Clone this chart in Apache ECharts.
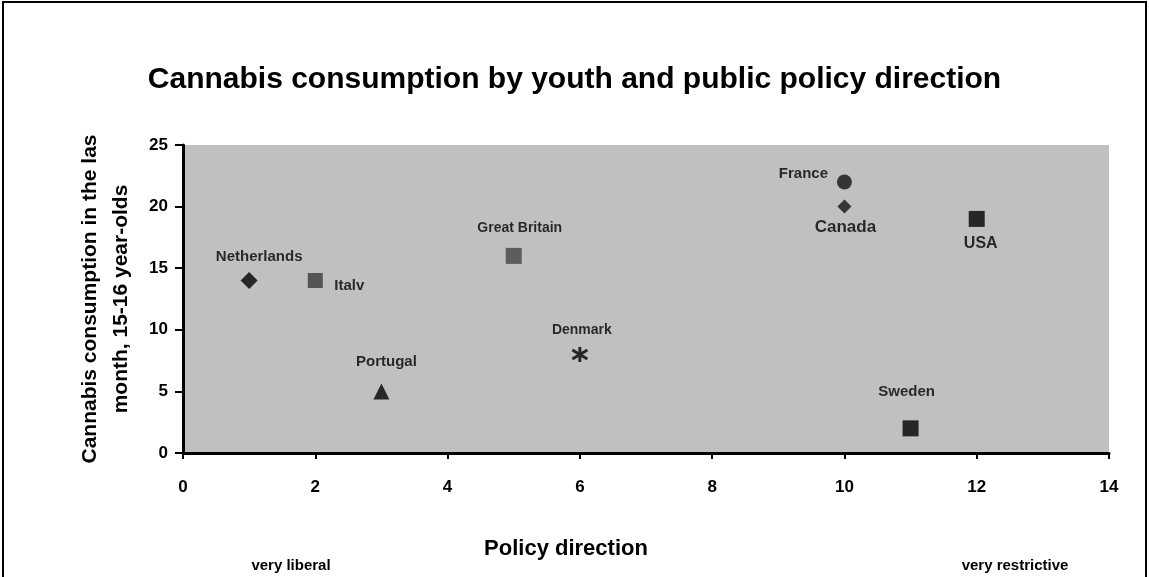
<!DOCTYPE html>
<html>
<head>
<meta charset="utf-8">
<script src="https://cdn.jsdelivr.net/npm/echarts@6/dist/echarts.min.js"></script>
<style>
  html, body { margin: 0; padding: 0; background: #fff; }
  #chart { width: 1149px; height: 577px; }
</style>
</head>
<body>
<div id="chart"></div>
<script>
// data
var countries = ['Netherlands', 'Italv', 'Portugal', 'Great Britain', 'Denmark', 'France', 'Canada', 'USA', 'Sweden'];
var policy = [1, 2, 3, 5, 6, 10, 10, 12, 11];
var consumption = [14, 14, 5, 16, 8, 22, 20, 19, 2];
var yTicks = [0, 5, 10, 15, 20, 25];
var xTicks = [0, 2, 4, 6, 8, 10, 12, 14];

// marker look per country
var asterisk = 'path://M0,-10L0,10M-9,-6L9,6M-9,6L9,-6';
var symbols = ['diamond', 'rect', 'triangle', 'rect', asterisk, 'circle', 'diamond', 'rect', 'rect'];
var symbolSizes = [17, 15, 16, 16, 15, 15, 14, 16, 16];
var colors = ['#000', '#3a3a3a', '#000', '#444', '#000', '#111', '#111', '#000', '#000'];
// label centre relative to marker centre
var labelOffsets = [[10, -24], [34, 5], [5, -30], [6, -28], [2, -24], [-41, -8], [1, 21], [4, 25], [-4, -37]];
var labelSizes = [15, 15, 15, 14, 14, 15, 17, 16, 15];

var chart = echarts.init(document.getElementById('chart'));

var points = countries.map(function (name, i) {
  var isStar = symbols[i] === asterisk;
  return {
    name: name,
    value: [policy[i], consumption[i]],
    symbol: symbols[i],
    symbolSize: symbolSizes[i],
    itemStyle: isStar
      ? { color: 'none', borderColor: '#000', borderWidth: 3 }
      : { color: colors[i] },
    label: {
      show: true,
      formatter: name,
      position: 'inside',
      offset: labelOffsets[i],
      fontSize: labelSizes[i],
      fontWeight: 'bold',
      fontFamily: 'Liberation Sans, Arial, sans-serif',
      color: '#000'
    }
  };
});

var option = {
  backgroundColor: '#fff',
  title: {
    text: 'Cannabis consumption by youth and public policy direction',
    left: 'center',
    top: 60,
    textStyle: {
      fontSize: 30,
      fontWeight: 'bold',
      fontFamily: 'Liberation Sans, Arial, sans-serif',
      color: '#000'
    }
  },
  grid: {
    left: 183,
    right: 40,
    top: 145,
    bottom: 124,
    show: true,
    backgroundColor: '#c0c0c0',
    borderWidth: 0
  },
  xAxis: {
    type: 'value',
    min: xTicks[0],
    max: xTicks[xTicks.length - 1],
    interval: 2,
    axisLine: { show: true, lineStyle: { color: '#000', width: 3 } },
    axisTick: { show: true, length: 6, lineStyle: { color: '#000', width: 2 } },
    axisLabel: {
      margin: 26,
      fontSize: 17,
      fontWeight: 'bold',
      fontFamily: 'Liberation Sans, Arial, sans-serif',
      color: '#000'
    },
    splitLine: { show: false }
  },
  yAxis: {
    type: 'value',
    min: yTicks[0],
    max: yTicks[yTicks.length - 1],
    interval: 5,
    name: 'Cannabis consumption in the las\nmonth, 15-16 year-olds',
    nameLocation: 'middle',
    nameRotate: 90,
    nameGap: 46,
    nameTextStyle: {
      fontSize: 21,
      fontWeight: 'bold',
      lineHeight: 31,
      fontFamily: 'Liberation Sans, Arial, sans-serif',
      color: '#000'
    },
    axisLine: { show: true, lineStyle: { color: '#000', width: 3 } },
    axisTick: { show: true, length: 8, lineStyle: { color: '#000', width: 2 } },
    axisLabel: {
      margin: 15,
      fontSize: 17,
      fontWeight: 'bold',
      fontFamily: 'Liberation Sans, Arial, sans-serif',
      color: '#000'
    },
    splitLine: { show: false }
  },
  graphic: [
    {
      type: 'rect',
      shape: { x: 3, y: 2, width: 1143, height: 580 },
      style: { fill: 'none', stroke: '#000', lineWidth: 2 },
      silent: true
    },
    {
      type: 'text',
      x: 566, y: 549,
      style: {
        text: 'Policy direction',
        fontSize: 22, fontWeight: 'bold',
        fontFamily: 'Liberation Sans, Arial, sans-serif',
        fill: '#000', align: 'center', verticalAlign: 'middle'
      }
    },
    {
      type: 'text',
      x: 291, y: 566,
      style: {
        text: 'very liberal',
        fontSize: 15, fontWeight: 'bold',
        fontFamily: 'Liberation Sans, Arial, sans-serif',
        fill: '#000', align: 'center', verticalAlign: 'middle'
      }
    },
    {
      type: 'text',
      x: 1015, y: 566,
      style: {
        text: 'very restrictive',
        fontSize: 15, fontWeight: 'bold',
        fontFamily: 'Liberation Sans, Arial, sans-serif',
        fill: '#000', align: 'center', verticalAlign: 'middle'
      }
    }
  ],
  series: [{
    type: 'scatter',
    data: points,
    animation: false
  }]
};

chart.setOption(option);
</script>
</body>
</html>
